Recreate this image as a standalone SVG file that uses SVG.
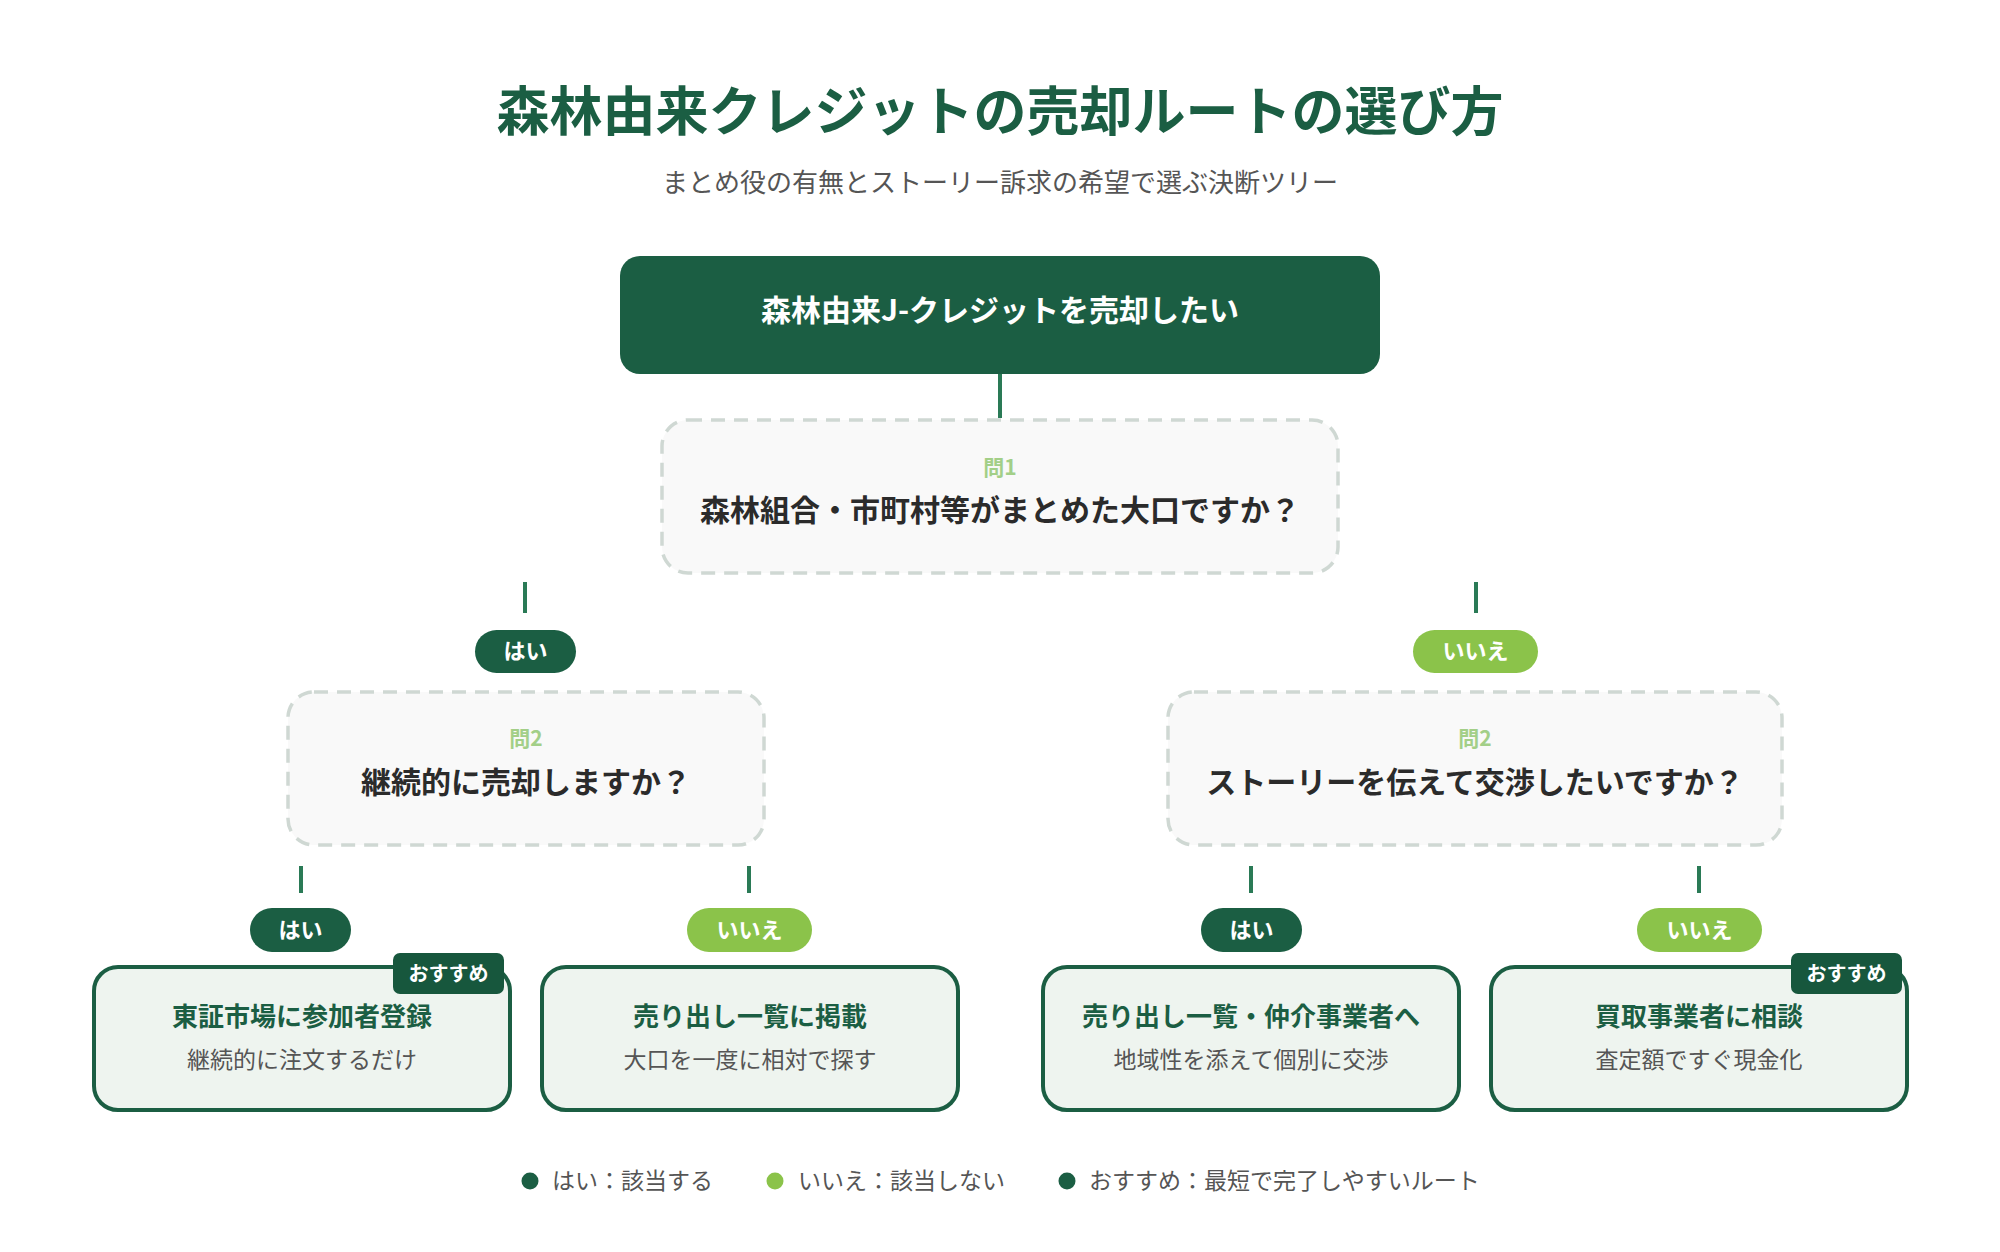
<svg xmlns="http://www.w3.org/2000/svg" width="2000" height="1252" viewBox="0 0 2000 1252">
<style>
text{font-family:"Noto Sans CJK JP","Noto Sans",sans-serif;text-anchor:middle}
.title{font-size:53px;font-weight:700;fill:#1b5e43}
.sub{font-size:26px;fill:#555}
.root{fill:#1b5e43}
.roott{font-size:30px;font-weight:700;fill:#fff}
.q{fill:#f9f9f9;stroke:#cfd8d3;stroke-width:3.5;stroke-dasharray:14 9}
.qn{font-size:21px;font-weight:700;fill:#a3cf88}
.qt{font-size:30px;font-weight:700;fill:#2b2b2b}
.yes{fill:#1b5e43}
.no{fill:#8bc34a}
.pt{font-size:22px;font-weight:700;fill:#fff}
.res{fill:#eef4ef;stroke:#1b5e43;stroke-width:4}
.rt{font-size:26px;font-weight:700;fill:#1b5e43}
.rs{font-size:23px;fill:#555}
.badge{fill:#17573d}
.bt{font-size:20px;font-weight:700;fill:#fff}
.conn{stroke:#2a7a56;stroke-width:4;fill:none}
.lg{font-size:23px;fill:#555;text-anchor:start}
</style>
<rect width="2000" height="1252" fill="#fff"/>
<text class="title" x="1000" y="131">森林由来クレジットの売却ルートの選び方</text>
<text class="sub" x="1000" y="192">まとめ役の有無とストーリー訴求の希望で選ぶ決断ツリー</text>

<g id="connectors">
<line class="conn" x1="1000" y1="374" x2="1000" y2="418"/>
<line class="conn" x1="525" y1="582" x2="525" y2="613"/>
<line class="conn" x1="1476" y1="582" x2="1476" y2="613"/>
<line class="conn" x1="301" y1="866" x2="301" y2="893"/>
<line class="conn" x1="749" y1="866" x2="749" y2="893"/>
<line class="conn" x1="1251" y1="866" x2="1251" y2="893"/>
<line class="conn" x1="1699" y1="866" x2="1699" y2="893"/>
</g>

<g id="root">
<rect class="root" x="620" y="256" width="760" height="118" rx="20"/>
<text class="roott" x="1000" y="321">森林由来J-クレジットを売却したい</text>
</g>

<g id="q1">
<rect class="q" x="662" y="420" width="676" height="153" rx="26"/>
<text class="qn" x="1000" y="475">問1</text>
<text class="qt" x="1000" y="521">森林組合・市町村等がまとめた大口ですか？</text>
</g>

<g id="pill-q1-yes">
<rect class="yes" x="475" y="630" width="101" height="43" rx="21.5"/>
<text class="pt" x="525.5" y="659">はい</text>
</g>
<g id="pill-q1-no">
<rect class="no" x="1413" y="630" width="125" height="43" rx="21.5"/>
<text class="pt" x="1475.5" y="659">いいえ</text>
</g>

<g id="q2-left">
<rect class="q" x="288" y="692" width="476" height="153" rx="26"/>
<text class="qn" x="526" y="746">問2</text>
<text class="qt" x="526" y="793">継続的に売却しますか？</text>
</g>
<g id="q2-right">
<rect class="q" x="1168" y="692" width="614" height="153" rx="26"/>
<text class="qn" x="1475" y="746">問2</text>
<text class="qt" x="1475" y="793">ストーリーを伝えて交渉したいですか？</text>
</g>

<g id="pill-a-yes">
<rect class="yes" x="250" y="908" width="101" height="44" rx="22"/>
<text class="pt" x="300.5" y="938">はい</text>
</g>
<g id="pill-a-no">
<rect class="no" x="687" y="908" width="125" height="44" rx="22"/>
<text class="pt" x="749.5" y="938">いいえ</text>
</g>
<g id="pill-b-yes">
<rect class="yes" x="1201" y="908" width="101" height="44" rx="22"/>
<text class="pt" x="1251.5" y="938">はい</text>
</g>
<g id="pill-b-no">
<rect class="no" x="1637" y="908" width="125" height="44" rx="22"/>
<text class="pt" x="1699.5" y="938">いいえ</text>
</g>

<g id="result-1">
<rect class="res" x="94" y="967" width="416" height="143" rx="24"/>
<rect class="badge" x="393" y="953" width="111" height="41" rx="7"/>
<text class="bt" x="448.5" y="981">おすすめ</text>
<text class="rt" x="302" y="1026">東証市場に参加者登録</text>
<text class="rs" x="302" y="1068">継続的に注文するだけ</text>
</g>
<g id="result-2">
<rect class="res" x="542" y="967" width="416" height="143" rx="24"/>
<text class="rt" x="750" y="1026">売り出し一覧に掲載</text>
<text class="rs" x="750" y="1068">大口を一度に相対で探す</text>
</g>
<g id="result-3">
<rect class="res" x="1043" y="967" width="416" height="143" rx="24"/>
<text class="rt" x="1251" y="1026">売り出し一覧・仲介事業者へ</text>
<text class="rs" x="1251" y="1068">地域性を添えて個別に交渉</text>
</g>
<g id="result-4">
<rect class="res" x="1491" y="967" width="416" height="143" rx="24"/>
<rect class="badge" x="1791" y="953" width="111" height="41" rx="7"/>
<text class="bt" x="1846.5" y="981">おすすめ</text>
<text class="rt" x="1699" y="1026">買取事業者に相談</text>
<text class="rs" x="1699" y="1068">査定額ですぐ現金化</text>
</g>

<g id="legend">
<circle cx="530" cy="1181" r="8.5" fill="#1b5e43"/>
<text class="lg" x="552" y="1189">はい：該当する</text>
<circle cx="775" cy="1181" r="8.5" fill="#8bc34a"/>
<text class="lg" x="798" y="1189">いいえ：該当しない</text>
<circle cx="1067" cy="1181" r="8.5" fill="#1b5e43"/>
<text class="lg" x="1089" y="1189">おすすめ：最短で完了しやすいルート</text>
</g>
</svg>
